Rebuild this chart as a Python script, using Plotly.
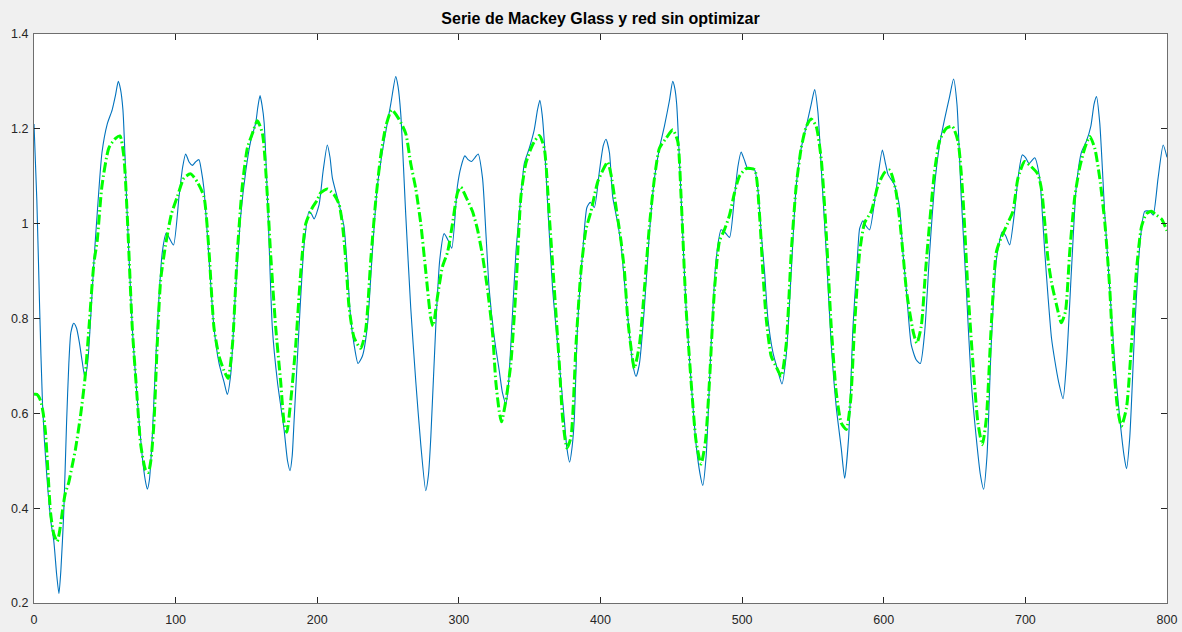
import plotly.graph_objects as go

# Mackey-Glass reference series (solid blue)
serie_x = [0, 2, 4, 6, 9, 12, 14, 16, 17.6, 19, 21, 23, 24.6, 26, 28, 30, 32, 34, 36, 38, 40, 42.3, 44.6, 48,
           51.7, 55.2, 57.5, 59.5, 61, 62.8, 65.8, 69.4, 72.9, 76.4, 78.5, 80, 81.5, 83.5, 87, 90.6, 93.4, 95.5,
           98.5, 102.4, 105, 107.1, 109.5, 111.8, 114, 116.5, 118, 120, 123.6, 127.1, 130.7, 134.2, 136.5, 138.9,
           142.4, 146, 149.5, 153, 156.6, 158, 159.6, 161, 162.5, 165.3, 168.3, 171.9, 176.6, 179, 180.8, 182.3,
           183.7, 187.2, 190.7, 194.3, 196, 197.8, 201.3, 204.1, 207.1, 209, 210.7, 215.4, 218.9, 221.3, 223.6,
           226, 228.8, 231.9, 235.4, 238.9, 242.5, 247.2, 251.9, 255.4, 257, 259, 262.5, 266, 269.6, 273.1, 276.6,
           278.5, 280.2, 283.7, 286.5, 289.6, 292.7, 295, 299, 301.5, 304.2, 306.5, 309, 311.5, 313.6, 316.7,
           319.1, 321.4, 325, 328.5, 330.8, 333.2, 335, 336.7, 340.3, 343.8, 346.2, 349.7, 353.2, 355.5, 357.2,
           358.8, 360.3, 363.1, 366.2, 369.7, 373.3, 376.3, 378.2, 380, 381.5, 383.8, 387.4, 390.4, 392.8, 395.6,
           399.2, 402, 403.9, 406.3, 408.6, 412.1, 414.5, 416.9, 419.9, 422.7, 425.1, 427.5, 431, 434.5, 438.1,
           441.6, 445.1, 448.7, 451, 452.5, 453.8, 456.9, 460.4, 464, 467.5, 470.3, 472.2, 474.6, 478.1, 481.6,
           485.2, 487.5, 491.1, 494.6, 497, 499.3, 501.5, 504, 508.7, 511.1, 513.5, 515.8, 518.2, 521.7, 525.2,
           528.1, 531.1, 534.7, 538.2, 541.7, 545.3, 548.8, 551.2, 553.5, 556.3, 559.4, 562.9, 566.5, 570, 572.4,
           575.2, 578.3, 581.3, 583, 585.3, 587.5, 590, 594.7, 599, 601, 603, 607.2, 609.5, 611.2, 613.5, 615.9,
           619.4, 622.9, 625.8, 628.8, 632.4, 635.9, 639.4, 643, 646.5, 649.3, 651.7, 654.7, 658.3, 661.8, 665.3,
           668.2, 670.5, 672.9, 675.9, 679.5, 683.7, 686, 688.9, 692.4, 694.8, 697.8, 700, 702.6, 706.6, 710.1,
           712, 713.7, 716, 718.4, 720.7, 723.5, 726.6, 729, 732.5, 736, 739.6, 743.1, 746.2, 748.5, 750.2, 752.5,
           756.1, 759.6, 763.1, 766.7, 769.7, 771.4, 773.7, 777.3, 780.8, 784.3, 787.9, 790.2, 793.7, 797.3, 800]
serie_y = [1.21, 1.05, 0.82, 0.62, 0.47, 0.37, 0.33, 0.26, 0.22, 0.27, 0.39, 0.58, 0.705, 0.77, 0.79, 0.78, 0.75,
           0.71, 0.675, 0.71, 0.8, 0.92, 1.02, 1.15, 1.21, 1.24, 1.27, 1.3, 1.285, 1.24, 1.02, 0.78, 0.63, 0.51,
           0.46, 0.44, 0.46, 0.55, 0.78, 0.94, 0.98, 0.97, 0.955, 1.057, 1.12, 1.147, 1.13, 1.123, 1.13, 1.135,
           1.115, 1.073, 0.924, 0.78, 0.705, 0.666, 0.64, 0.682, 0.862, 1.018, 1.11, 1.174, 1.213, 1.245, 1.27,
           1.25, 1.213, 1.018, 0.78, 0.666, 0.565, 0.5, 0.479, 0.51, 0.588, 0.784, 0.955, 1.026, 1.02, 1.01, 1.04,
           1.11, 1.166, 1.14, 1.096, 1.041, 0.994, 0.9, 0.8, 0.745, 0.705, 0.721, 0.784, 0.94, 1.08, 1.174, 1.252,
           1.31, 1.29, 1.23, 1.018, 0.823, 0.666, 0.534, 0.437, 0.47, 0.55, 0.784, 0.924, 0.979, 0.963, 0.948,
           1.08, 1.12, 1.143, 1.135, 1.131, 1.14, 1.147, 1.096, 0.979, 0.862, 0.76, 0.69, 0.643, 0.62, 0.66,
           0.745, 0.94, 1.057, 1.127, 1.159, 1.198, 1.24, 1.26, 1.23, 1.174, 1.018, 0.862, 0.745, 0.627, 0.526,
           0.497, 0.53, 0.588, 0.784, 0.94, 1.034, 1.045, 1.034, 1.11, 1.165, 1.178, 1.15, 1.057, 1.002, 0.955,
           0.877, 0.784, 0.705, 0.678, 0.705, 0.823, 0.979, 1.096, 1.159, 1.205, 1.26, 1.3, 1.285, 1.252, 1.057,
           0.823, 0.666, 0.534, 0.472, 0.448, 0.51, 0.745, 0.924, 0.987, 0.983, 0.971, 1.057, 1.12, 1.151, 1.135,
           1.116, 1.114, 1.073, 0.979, 0.9, 0.8, 0.729, 0.69, 0.662, 0.721, 0.9, 1.08, 1.159, 1.205, 1.252, 1.283,
           1.236, 1.096, 0.94, 0.745, 0.612, 0.526, 0.463, 0.549, 0.784, 0.924, 0.99, 1.006, 0.995, 0.987, 1.073,
           1.155, 1.13, 1.104, 1.084, 1.06, 1.034, 0.94, 0.862, 0.745, 0.713, 0.705, 0.768, 0.94, 1.08, 1.166,
           1.221, 1.268, 1.305, 1.252, 1.057, 0.862, 0.666, 0.549, 0.471, 0.44, 0.51, 0.745, 0.924, 0.983, 0.975,
           0.955, 1.026, 1.096, 1.145, 1.14, 1.127, 1.139, 1.096, 1.02, 0.94, 0.846, 0.76, 0.713, 0.666, 0.631,
           0.705, 0.9, 1.08, 1.151, 1.174, 1.205, 1.252, 1.268, 1.213, 1.018, 0.862, 0.705, 0.588, 0.51, 0.483,
           0.549, 0.784, 0.955, 1.026, 1.026, 1.018, 1.096, 1.166, 1.14]

# Output of the non-optimised network (green dash-dot)
red_x = [0, 2, 4.6, 6.5, 8.1, 10, 11.7, 14, 16.4, 18, 19.9, 22, 24.6, 27, 29.3, 32.9, 36, 38.8, 42.3, 44.6, 48,
         52.9, 57.6, 60.7, 63.5, 65.8, 69.4, 72.9, 75.3, 78.8, 80.7, 82.5, 84.7, 87, 89.4, 92.9, 97, 101.2,
         105.9, 110.6, 115.3, 120, 123.6, 127.1, 130.7, 134.2, 137, 140.1, 143.6, 147.1, 150.7, 154.2, 157.7,
         161.3, 164.8, 167, 170.7, 174.2, 176.6, 178.5, 181.3, 184.8, 188.4, 191.9, 196.6, 200, 202.4, 207.1,
         211.9, 215.4, 217.7, 220.1, 222.5, 226, 230.7, 234.2, 237.8, 241.3, 244.8, 248.4, 252.6, 257.8, 262.5,
         266, 269.6, 273.1, 276.6, 280.2, 281.8, 284.9, 288.4, 292, 295.5, 299, 301.4, 304.9, 309.6, 313.2,
         316.7, 320.2, 323.8, 326.1, 328.5, 330.1, 333.2, 336.7, 340.3, 343.8, 347.3, 352, 356.8, 360.3, 363.8,
         367.4, 370.9, 373.3, 376.3, 379.1, 382.7, 386.2, 389.7, 393.3, 398, 402.7, 405, 407.4, 411, 414.5,
         416.9, 419.2, 421.6, 423.9, 427.5, 431, 434.5, 438.1, 441.6, 446.3, 451, 454.5, 456.9, 460.4, 464,
         467.5, 471, 474.1, 476.9, 480.5, 484, 487.5, 491.1, 494.6, 498.1, 502.8, 508.7, 512.3, 514.6, 517,
         520.5, 524.1, 527.6, 531.1, 534.7, 538.2, 541.7, 545.3, 548.8, 552.3, 555.9, 559.4, 562.9, 566.5, 570,
         573.5, 576.6, 579.4, 583, 586.5, 591.2, 595.9, 600.6, 604.2, 608.2, 611.2, 613.5, 615.9, 618.2, 621.1,
         623.4, 626.5, 629.5, 632.4, 635.9, 639.4, 644.1, 648.4, 652.4, 655.9, 659.4, 663, 666.5, 669.6, 672.4,
         675.9, 679.5, 683, 687.7, 691.2, 694.8, 699.5, 704.2, 708.9, 711.5, 713.7, 716, 718.4, 721.9, 725.4,
         728.3, 731.3, 734.9, 738.4, 741.9, 745.5, 749, 752.5, 756.1, 759.6, 762, 765, 767.8, 771.4, 774.9,
         778.4, 782, 785.5, 789, 792.6, 796.1, 800]
red_y = [0.64, 0.64, 0.627, 0.6, 0.56, 0.47, 0.39, 0.345, 0.33, 0.35, 0.39, 0.43, 0.455, 0.49, 0.525, 0.596, 0.674,
         0.78, 0.917, 0.963, 1.08, 1.16, 1.18, 1.185, 1.14, 1.02, 0.78, 0.63, 0.535, 0.48, 0.475, 0.5, 0.58,
         0.745, 0.88, 0.955, 1.02, 1.057, 1.096, 1.105, 1.088, 1.057, 0.94, 0.78, 0.72, 0.69, 0.674, 0.744, 0.94,
         1.08, 1.16, 1.19, 1.217, 1.19, 1.057, 0.94, 0.78, 0.666, 0.58, 0.56, 0.627, 0.744, 0.9, 1.0, 1.034,
         1.05, 1.065, 1.073, 1.061, 1.041, 1.0, 0.924, 0.823, 0.76, 0.737, 0.776, 0.924, 1.049, 1.143, 1.205,
         1.24, 1.22, 1.19, 1.127, 1.073, 1.0, 0.9, 0.8, 0.784, 0.846, 0.909, 0.94, 1.0, 1.065, 1.077, 1.057,
         1.026, 0.987, 0.932, 0.862, 0.768, 0.666, 0.604, 0.582, 0.627, 0.705, 0.862, 1.057, 1.127, 1.166,
         1.186, 1.159, 1.018, 0.862, 0.705, 0.588, 0.527, 0.549, 0.745, 0.9, 0.987, 1.026, 1.088, 1.119, 1.13,
         1.104, 1.034, 0.963, 0.9, 0.8, 0.737, 0.695, 0.745, 0.862, 0.994, 1.096, 1.159, 1.18, 1.198, 1.174,
         1.057, 0.823, 0.666, 0.541, 0.493, 0.541, 0.666, 0.862, 0.963, 0.987, 1.018, 1.065, 1.1, 1.116, 1.114,
         1.018, 0.9, 0.8, 0.721, 0.698, 0.678, 0.745, 0.94, 1.08, 1.159, 1.205, 1.221, 1.205, 1.135, 0.979,
         0.784, 0.643, 0.58, 0.566, 0.627, 0.784, 0.94, 1.002, 1.026, 1.08, 1.108, 1.113, 1.075, 1.01, 0.94,
         0.862, 0.815, 0.768, 0.748, 0.784, 0.9, 1.002, 1.111, 1.174, 1.201, 1.205, 1.174, 1.057, 0.862, 0.705,
         0.58, 0.534, 0.588, 0.784, 0.94, 0.971, 1.002, 1.026, 1.096, 1.131, 1.12, 1.104, 1.07, 1.002, 0.924,
         0.877, 0.83, 0.791, 0.815, 0.94, 1.057, 1.119, 1.159, 1.184, 1.159, 1.096, 1.002, 0.862, 0.721, 0.612,
         0.573, 0.612, 0.745, 0.9, 0.994, 1.021, 1.026, 1.018, 1.01, 0.985]

x_ticks = [0, 100, 200, 300, 400, 500, 600, 700, 800]
y_ticks = [0.2, 0.4, 0.6, 0.8, 1.0, 1.2, 1.4]
y_tick_text = ["0.2", "0.4", "0.6", "0.8", "1", "1.2", "1.4"]

fig = go.Figure()
fig.add_trace(go.Scatter(
    x=serie_x, y=serie_y, mode="lines",
    line=dict(color="#0072BD", width=1.1, shape="spline", smoothing=0.6),
    showlegend=False,
))
fig.add_trace(go.Scatter(
    x=red_x, y=red_y, mode="lines",
    line=dict(color="#00FF00", width=3, dash="10px,3px,1.5px,3px", shape="spline", smoothing=0.6),
    showlegend=False,
))

axis_style = dict(
    showgrid=False, zeroline=False, showline=True, mirror="ticks",
    linecolor="#6e6e6e", linewidth=1, ticks="inside", ticklen=6,
    tickcolor="#262626", tickwidth=1, automargin=False,
    tickfont=dict(family="Liberation Sans, Arial, sans-serif", size=12.5, color="#262626"),
)

fig.update_layout(
    width=1182, height=632,
    paper_bgcolor="#F0F0F0", plot_bgcolor="#FFFFFF",
    margin=dict(l=34, r=15, t=34, b=29, autoexpand=False),
    title=dict(
        text="<b>Serie de Mackey Glass y red sin optimizar</b>",
        x=0.5, xref="paper", xanchor="center", y=1 - 18 / 632, yanchor="middle", yref="container",
        font=dict(family="Liberation Sans, Arial, sans-serif", size=16, color="#000000"),
    ),
    xaxis=dict(range=[0, 800], tickvals=x_ticks, ticklabelstandoff=5, **axis_style),
    yaxis=dict(range=[0.2, 1.4], tickvals=y_ticks, ticktext=y_tick_text, ticklabelstandoff=2, **axis_style),
)

fig.write_html("out.html")
